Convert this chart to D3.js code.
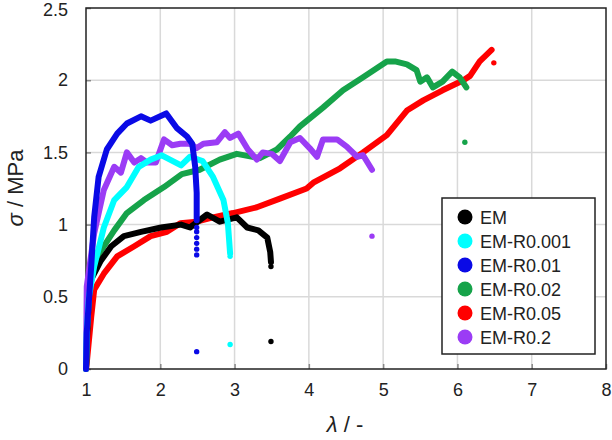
<!DOCTYPE html>
<html><head><meta charset="utf-8">
<script src="https://cdn.jsdelivr.net/npm/d3@7"></script>
<style>body{margin:0;background:#fff}svg{display:block}text{font-family:"Liberation Sans",Arial,sans-serif}</style>
</head><body><svg id="c" width="612" height="440"></svg>
<script>
const xTicks=[1,2,3,4,5,6,7,8];
const yTicks=[0,0.5,1,1.5,2,2.5];
const yTickLabels=["0","0.5","1","1.5","2","2.5"];
const seriesNames=["EM","EM-R0.001","EM-R0.01","EM-R0.02","EM-R0.05","EM-R0.2"];
const seriesColors=["#000000","#00ffff","#0a0ae6","#16a34a","#ff0000","#9b3cf5"];

const emLine=[[1,0],[1.02,0.3],[1.04,0.5],[1.07,0.62],[1.2,0.75],[1.34,0.85],[1.51,0.92],[1.74,0.95],[2.01,0.98],[2.28,1.0],[2.4,0.98],[2.63,1.07],[2.8,1.02],[3.03,1.05],[3.17,0.98],[3.32,0.96],[3.44,0.91],[3.48,0.81],[3.49,0.74]];
const emDots=[[3.49,0.71],[3.49,0.19]];
const r0001Line=[[1,0],[1.01,0.25],[1.04,0.5],[1.11,0.71],[1.24,0.98],[1.38,1.17],[1.55,1.26],[1.71,1.4],[1.87,1.45],[2.02,1.48],[2.28,1.41],[2.4,1.47],[2.57,1.44],[2.71,1.33],[2.85,1.17],[2.91,1.01],[2.94,0.8]];
const r0001Dots=[[2.94,0.78],[2.94,0.17]];
const r001Line=[[1,0],[1.01,0.25],[1.07,0.71],[1.11,1.05],[1.17,1.33],[1.28,1.52],[1.42,1.63],[1.55,1.7],[1.74,1.75],[1.87,1.72],[2.08,1.77],[2.22,1.67],[2.36,1.61],[2.43,1.56],[2.47,1.4],[2.49,1.22],[2.49,1.03]];
const r001Dots=[[2.49,0.98],[2.49,0.95],[2.49,0.91],[2.49,0.87],[2.49,0.83],[2.49,0.79],[2.49,0.12]];
const r002Line=[[1,0],[1.02,0.35],[1.04,0.55],[1.15,0.78],[1.38,0.96],[1.55,1.08],[1.78,1.17],[2.05,1.26],[2.29,1.35],[2.53,1.38],[2.8,1.45],[3.03,1.49],[3.34,1.46],[3.57,1.52],[3.75,1.61],[3.88,1.68],[4.19,1.81],[4.46,1.93],[4.73,2.02],[5.05,2.13],[5.16,2.13],[5.32,2.11],[5.45,2.07],[5.5,1.99],[5.59,2.02],[5.67,1.95],[5.8,1.99],[5.93,2.06],[6.03,2.02],[6.12,1.95]];
const r002Dots=[[6.1,1.57]];
const r005Line=[[1,0],[1.01,0.04],[1.07,0.36],[1.11,0.55],[1.24,0.66],[1.42,0.78],[1.65,0.85],[1.87,0.92],[2.09,0.95],[2.27,1.01],[2.49,1.02],[2.71,1.05],[2.98,1.08],[3.3,1.12],[3.61,1.18],[3.97,1.25],[4.06,1.29],[4.42,1.39],[4.73,1.5],[5.05,1.62],[5.32,1.79],[5.54,1.86],[5.8,1.93],[6.08,2.0],[6.17,2.03],[6.3,2.13],[6.46,2.21]];
const r005Dots=[[6.49,2.12]];
const r02Line=[[1,0],[1.005,0.3],[1.01,0.57],[1.11,0.94],[1.24,1.24],[1.38,1.4],[1.47,1.36],[1.55,1.5],[1.65,1.43],[1.74,1.46],[1.82,1.43],[1.94,1.43],[2.05,1.59],[2.16,1.55],[2.27,1.56],[2.4,1.56],[2.49,1.53],[2.58,1.56],[2.76,1.57],[2.87,1.64],[2.94,1.6],[3.05,1.63],[3.18,1.52],[3.3,1.45],[3.38,1.5],[3.5,1.49],[3.61,1.44],[3.75,1.57],[3.88,1.6],[4.01,1.53],[4.11,1.47],[4.19,1.59],[4.38,1.59],[4.51,1.54],[4.65,1.47],[4.73,1.48],[4.85,1.38]];
const r02Dots=[[4.85,0.92]];

const lines=[emLine,r0001Line,r001Line,r002Line,r005Line,r02Line];
const dots=[emDots,r0001Dots,r001Dots,r002Dots,r005Dots,r02Dots];
const drawOrder=[4,3,0,5,1,2];

const svg=d3.select("#c");
const L=86,R=606,T=8,B=369;
const x=d3.scaleLinear().domain([1,8]).range([L,R]);
const y=d3.scaleLinear().domain([0,2.5]).range([B,T]);

// grid
const g=svg.append("g");
g.selectAll(".gx").data(xTicks.slice(1,-1)).enter().append("line")
 .attr("x1",d=>x(d)).attr("x2",d=>x(d)).attr("y1",T).attr("y2",B)
 .attr("stroke","#d9d9d9").attr("stroke-width",1.5);
g.selectAll(".gy").data(yTicks.slice(1,-1)).enter().append("line")
 .attr("x1",L).attr("x2",R).attr("y1",d=>y(d)).attr("y2",d=>y(d))
 .attr("stroke","#d9d9d9").attr("stroke-width",1.5);

// axes with inner ticks
const xAxis=d3.axisBottom(x).tickValues(xTicks).tickSize(-5).tickPadding(14).tickFormat(d3.format("d"));
const yAxis=d3.axisLeft(y).tickValues(yTicks).tickSize(-5).tickPadding(18).tickFormat((d,i)=>yTickLabels[i]);
const xa=svg.append("g").attr("transform",`translate(0,${B})`).call(xAxis);
const ya=svg.append("g").attr("transform",`translate(${L},0)`).call(yAxis);
[xa,ya].forEach(a=>{
 a.select(".domain").remove();
 a.selectAll(".tick line").attr("stroke","#888").attr("stroke-width",1.5);
 a.selectAll(".tick text").attr("font-size",18).attr("fill","#222").attr("font-family","Liberation Sans, Arial, sans-serif");
});
ya.selectAll(".tick text").filter(d=>d===2.5).attr("dy","0.42em");
// frame
svg.append("rect").attr("x",L).attr("y",T).attr("width",R-L).attr("height",B-T)
 .attr("fill","none").attr("stroke","#222").attr("stroke-width",1.5);

// series
const lineGen=d3.line().x(d=>x(d[0])).y(d=>y(d[1])).curve(d3.curveLinear);
drawOrder.forEach(i=>{
 svg.append("path").datum(lines[i]).attr("d",lineGen)
  .attr("fill","none").attr("stroke",seriesColors[i]).attr("stroke-width",6)
  .attr("stroke-linejoin","round").attr("stroke-linecap","round");
});
drawOrder.forEach(i=>{
 svg.selectAll(null).data(dots[i]).enter().append("circle")
  .attr("cx",d=>x(d[0])).attr("cy",d=>y(d[1])).attr("r",2.7).attr("fill",seriesColors[i]);
});

// legend
const lg=svg.append("g");
lg.append("rect").attr("x",442).attr("y",198).attr("width",153).attr("height",156)
 .attr("fill","#fff").attr("stroke","#222").attr("stroke-width",1.5);
seriesNames.forEach((n,i)=>{
 const cy=217+i*24;
 lg.append("circle").attr("cx",465).attr("cy",cy).attr("r",7.5).attr("fill",seriesColors[i]);
 lg.append("text").attr("x",480).attr("y",cy+6.5).attr("font-size",18).attr("fill","#222").text(n);
});

// titles
const yt=svg.append("text").attr("transform","translate(23,188) rotate(-90)").attr("text-anchor","middle").attr("font-size",22).attr("fill","#222");
yt.append("tspan").attr("font-style","italic").text("σ");
yt.append("tspan").text(" / MPa");
const xt=svg.append("text").attr("x",345).attr("y",432).attr("text-anchor","middle").attr("font-size",22).attr("fill","#222");
xt.append("tspan").attr("font-style","italic").text("λ");
xt.append("tspan").text(" / -");
</script></body></html>
